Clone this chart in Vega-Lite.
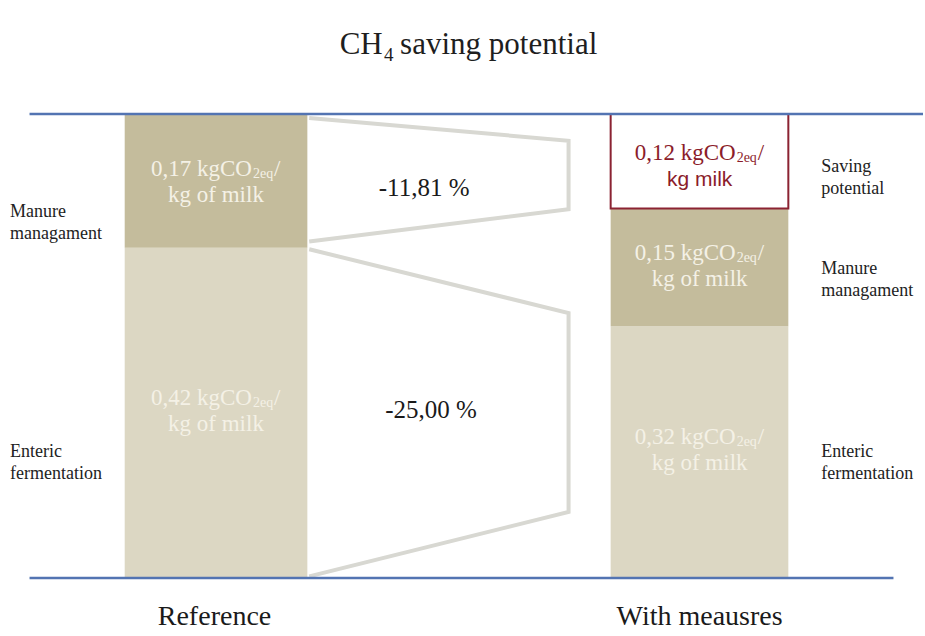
{
  "$schema": "https://vega.github.io/schema/vega-lite/v6.json",
  "autosize": {"type": "fit", "contains": "padding"},
  "width": 925,
  "height": 636,
  "padding": 0,
  "background": "#ffffff",
  "config": {"view": {"stroke": null}, "text": {"font": "'Liberation Serif', 'Times New Roman', serif"}},
  "datasets": {
    "bars": [
      {"bar": "Reference", "seg": "Enteric fermentation", "x0": 1.351, "x1": 3.33, "v0": 0, "v1": 0.42},
      {"bar": "Reference", "seg": "Manure managament", "x0": 1.351, "x1": 3.33, "v0": 0.42, "v1": 0.59},
      {"bar": "With meausres", "seg": "Enteric fermentation", "x0": 6.616, "x1": 8.541, "v0": 0, "v1": 0.32},
      {"bar": "With meausres", "seg": "Manure managament", "x0": 6.616, "x1": 8.541, "v0": 0.32, "v1": 0.47},
      {"bar": "With meausres", "seg": "Saving potential", "x0": 6.616, "x1": 8.541, "v0": 0.47, "v1": 0.59}
    ],
    "funnels": [
      {"funnel": "manure", "ord": 1, "x": 3.35, "v": 0.585},
      {"funnel": "manure", "ord": 2, "x": 6.16, "v": 0.556},
      {"funnel": "manure", "ord": 3, "x": 6.16, "v": 0.469},
      {"funnel": "manure", "ord": 4, "x": 3.35, "v": 0.428},
      {"funnel": "enteric", "ord": 1, "x": 3.35, "v": 0.418},
      {"funnel": "enteric", "ord": 2, "x": 6.16, "v": 0.337},
      {"funnel": "enteric", "ord": 3, "x": 6.16, "v": 0.084},
      {"funnel": "enteric", "ord": 4, "x": 3.35, "v": 0.002}
    ],
    "baselines": [
      {"line": "top", "x0": 0.32, "x1": 10, "v": 0.59},
      {"line": "bottom", "x0": 0.32, "x1": 9.68, "v": 0}
    ],
    "barlabels": [
      {"tone": "light", "x": 2.34, "v": 0.504, "main": "0,17 kgCO", "sub": "2eq", "line2": "kg of milk"},
      {"tone": "light", "x": 2.34, "v": 0.212, "main": "0,42 kgCO", "sub": "2eq", "line2": "kg of milk"},
      {"tone": "red", "x": 7.58, "v": 0.524, "main": "0,12 kgCO", "sub": "2eq", "line2": "kg milk"},
      {"tone": "light", "x": 7.58, "v": 0.397, "main": "0,15 kgCO", "sub": "2eq", "line2": "kg of milk"},
      {"tone": "light", "x": 7.58, "v": 0.163, "main": "0,32 kgCO", "sub": "2eq", "line2": "kg of milk"}
    ],
    "texts": [
      {"role": "title_main", "x": 3.68, "v": 0.678, "text": "CH"},
      {"role": "title_sub", "x": 4.16, "v": 0.678, "text": "4"},
      {"role": "title_rest", "x": 4.335, "v": 0.678, "text": "saving potential"},
      {"role": "category", "x": 2.324, "v": -0.0496, "text": "Reference"},
      {"role": "category", "x": 7.58, "v": -0.0496, "text": "With meausres"},
      {"role": "pct", "x": 4.595, "v": 0.496, "text": "-11,81 %"},
      {"role": "pct", "x": 4.67, "v": 0.2136, "text": "-25,00 %"},
      {"role": "side", "x": 0.108, "v": 0.465, "text": "Manure\nmanagament"},
      {"role": "side", "x": 0.108, "v": 0.16, "text": "Enteric\nfermentation"},
      {"role": "side", "x": 8.897, "v": 0.523, "text": "Saving\npotential"},
      {"role": "side", "x": 8.897, "v": 0.393, "text": "Manure\nmanagament"},
      {"role": "side", "x": 8.897, "v": 0.16, "text": "Enteric\nfermentation"}
    ]
  },
  "encoding": {
    "x": {"field": "x", "type": "quantitative", "scale": {"domain": [0, 10], "nice": false, "zero": false}, "axis": null},
    "y": {"field": "v", "type": "quantitative", "scale": {"domain": [-0.0738, 0.735], "nice": false, "zero": false}, "axis": null}
  },
  "layer": [
    {
      "data": {"name": "bars"},
      "mark": {"type": "rect"},
      "encoding": {
        "x": {"field": "x0", "type": "quantitative"},
        "x2": {"field": "x1"},
        "y": {"field": "v0", "type": "quantitative"},
        "y2": {"field": "v1"},
        "fill": {"field": "seg", "type": "nominal", "legend": null,
          "scale": {"domain": ["Enteric fermentation", "Manure managament", "Saving potential"], "range": ["#dcd7c3", "#c4bc9c", "#ffffff"]}}
      }
    },
    {
      "data": {"name": "bars"},
      "transform": [{"filter": "datum.seg === 'Saving potential'"}],
      "mark": {"type": "rect", "fill": "#ffffff", "stroke": "#8b2332", "strokeWidth": 2},
      "encoding": {
        "x": {"field": "x0", "type": "quantitative"},
        "x2": {"field": "x1"},
        "y": {"field": "v0", "type": "quantitative"},
        "y2": {"field": "v1"}
      }
    },
    {
      "data": {"name": "funnels"},
      "mark": {"type": "line", "stroke": "#d8d8d2", "strokeWidth": 4, "strokeJoin": "miter"},
      "encoding": {
        "detail": {"field": "funnel", "type": "nominal"},
        "order": {"field": "ord", "type": "quantitative"}
      }
    },
    {
      "data": {"name": "baselines"},
      "mark": {"type": "rule", "stroke": "#5374b2", "strokeWidth": 2.5},
      "encoding": {
        "x": {"field": "x0", "type": "quantitative"},
        "x2": {"field": "x1"}
      }
    },
    {
      "data": {"name": "barlabels"},
      "mark": {"type": "text", "font": "'Liberation Serif', serif", "fontSize": 23, "align": "right", "baseline": "middle", "dx": 36, "dy": -13},
      "encoding": {
        "text": {"field": "main"},
        "color": {"field": "tone", "type": "nominal", "legend": null, "scale": {"domain": ["light", "red"], "range": ["#f4f1e6", "#8b1c2a"]}}
      }
    },
    {
      "data": {"name": "barlabels"},
      "mark": {"type": "text", "font": "'Liberation Serif', serif", "fontSize": 14, "align": "left", "baseline": "middle", "dx": 37, "dy": -8},
      "encoding": {
        "text": {"field": "sub"},
        "color": {"field": "tone", "type": "nominal", "legend": null}
      }
    },
    {
      "data": {"name": "barlabels"},
      "mark": {"type": "text", "font": "'Liberation Serif', serif", "fontSize": 23, "align": "left", "baseline": "middle", "dx": 58, "dy": -13},
      "encoding": {
        "text": {"value": "/"},
        "color": {"field": "tone", "type": "nominal", "legend": null}
      }
    },
    {
      "data": {"name": "barlabels"},
      "transform": [{"filter": "datum.tone === 'light'"}],
      "mark": {"type": "text", "font": "'Liberation Serif', serif", "fontSize": 23, "align": "center", "baseline": "middle", "dy": 13, "color": "#f4f1e6"},
      "encoding": {"text": {"field": "line2"}}
    },
    {
      "data": {"name": "barlabels"},
      "transform": [{"filter": "datum.tone === 'red'"}],
      "mark": {"type": "text", "font": "'Liberation Sans', sans-serif", "fontSize": 21, "align": "center", "baseline": "middle", "dy": 14, "color": "#8b1c2a"},
      "encoding": {"text": {"field": "line2"}}
    },
    {
      "data": {"name": "texts"},
      "transform": [{"filter": "datum.role === 'title_main'"}],
      "mark": {"type": "text", "font": "'Liberation Serif', serif", "fontSize": 31, "align": "left", "baseline": "middle", "color": "#1e1e1e"},
      "encoding": {"text": {"field": "text"}}
    },
    {
      "data": {"name": "texts"},
      "transform": [{"filter": "datum.role === 'title_sub'"}],
      "mark": {"type": "text", "font": "'Liberation Serif', serif", "fontSize": 19, "align": "left", "baseline": "middle", "dy": 10, "color": "#1e1e1e"},
      "encoding": {"text": {"field": "text"}}
    },
    {
      "data": {"name": "texts"},
      "transform": [{"filter": "datum.role === 'title_rest'"}],
      "mark": {"type": "text", "font": "'Liberation Serif', serif", "fontSize": 31, "align": "left", "baseline": "middle", "color": "#1e1e1e"},
      "encoding": {"text": {"field": "text"}}
    },
    {
      "data": {"name": "texts"},
      "transform": [{"filter": "datum.role === 'category'"}],
      "mark": {"type": "text", "font": "'Liberation Serif', serif", "fontSize": 28, "align": "center", "baseline": "middle", "color": "#1a1a1a"},
      "encoding": {"text": {"field": "text"}}
    },
    {
      "data": {"name": "texts"},
      "transform": [{"filter": "datum.role === 'pct'"}],
      "mark": {"type": "text", "font": "'Liberation Serif', serif", "fontSize": 25, "align": "center", "baseline": "middle", "color": "#1a1a1a"},
      "encoding": {"text": {"field": "text"}}
    },
    {
      "data": {"name": "texts"},
      "transform": [{"filter": "datum.role === 'side'"}],
      "mark": {"type": "text", "font": "'Liberation Serif', serif", "fontSize": 18, "align": "left", "baseline": "middle", "lineBreak": "\n", "lineHeight": 22, "color": "#222222"},
      "encoding": {"text": {"field": "text"}}
    }
  ]
}
